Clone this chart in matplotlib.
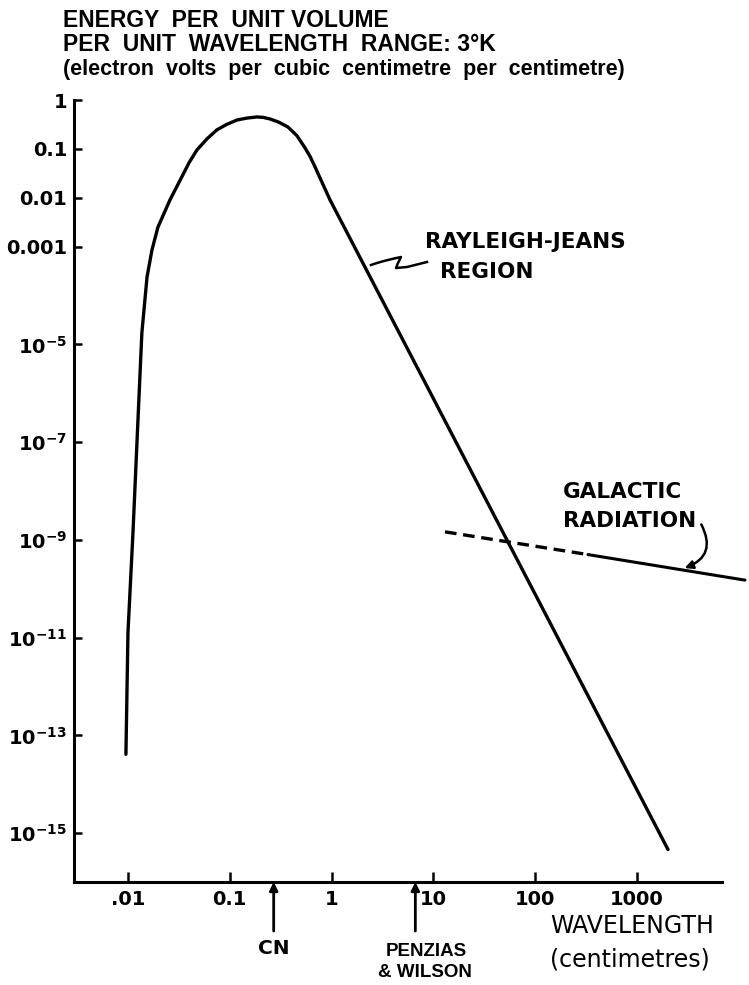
import matplotlib.pyplot as plt
from matplotlib import transforms
from matplotlib.lines import Line2D

# black-body curve at 3 K (cm, eV per cm^3 per cm)
planck_wl = [0.00955, 0.0100, 0.0112, 0.0128, 0.0137, 0.0154, 0.0172, 0.0197,
             0.0259, 0.0339, 0.0398, 0.0476, 0.060, 0.0748, 0.093, 0.118,
             0.148, 0.185, 0.214, 0.248, 0.30, 0.373, 0.457, 0.548, 0.617,
             0.687, 0.964, 2018]
planck_u = [4.1e-14, 1.26e-11, 1.41e-9, 7.4e-7, 1.74e-5, 2.4e-4, 8.5e-4, 2.5e-3,
            9.1e-3, 0.027, 0.052, 0.095, 0.162, 0.245, 0.316, 0.39,
            0.427, 0.45, 0.44, 0.41, 0.355, 0.28, 0.186, 0.105, 0.069,
            0.043, 9.1e-3, 4.6e-16]

# galactic radiation (dashed part is extrapolated)
gal_dash_wl = [13.0, 330.0]
gal_dash_u = [1.46e-9, 5.0e-10]
gal_wl = [330.0, 11500.0]
gal_u = [5.0e-10, 1.5e-10]

x_ticks = [0.01, 0.1, 1, 10, 100, 1000]
x_labels = ['.01', '0.1', '1', '10', '100', '1000']
y_ticks = [1, 0.1, 0.01, 0.001, 1e-5, 1e-7, 1e-9, 1e-11, 1e-13, 1e-15]
y_labels = ['1', '0.1', '0.01', '0.001', r'$10^{-5}$', r'$10^{-7}$',
            r'$10^{-9}$', r'$10^{-11}$', r'$10^{-13}$', r'$10^{-15}$']

cn_wl = 0.27
pw_wl = 6.65

plt.rcParams['mathtext.fontset'] = 'dejavusans'
plt.rcParams['mathtext.default'] = 'bf'

W, H = 749, 985


def fpx(x, y):
    # figure pixel -> figure fraction
    return x / W, 1 - y / H


fig = plt.figure(figsize=(W / 100, H / 100), dpi=100)
ax = fig.add_axes([74 / W, 1 - 882 / H, (722 - 74) / W, (882 - 100) / H])
ax.set_xscale('log')
ax.set_yscale('log')
ax.set_xlim(10 ** -2.53, 10 ** 3.835)
ax.set_ylim(1e-16, 1)

ax.plot(planck_wl, planck_u, color='black', lw=2.4, solid_capstyle='round',
        solid_joinstyle='round')
ax.plot(gal_dash_wl, gal_dash_u, color='black', lw=2.4, ls=(0, (3.5, 2)),
        clip_on=False)
ax.plot(gal_wl, gal_u, color='black', lw=2.2, clip_on=False,
        solid_capstyle='round')

for s in ['top', 'right']:
    ax.spines[s].set_visible(False)
for s in ['left', 'bottom']:
    ax.spines[s].set_linewidth(2.2)

ax.set_xticks(x_ticks)
ax.set_xticklabels(x_labels)
ax.set_yticks(y_ticks)
ax.set_yticklabels(y_labels)
ax.minorticks_off()
ax.tick_params(axis='both', direction='in', width=1.8, labelsize=14)
ax.tick_params(axis='x', length=7, pad=6)
ax.tick_params(axis='y', length=6, pad=5)
for lab in ax.get_xticklabels() + ax.get_yticklabels():
    lab.set_fontweight('bold')

# title block
title_lines = ['ENERGY  PER  UNIT VOLUME',
               'PER  UNIT  WAVELENGTH  RANGE: 3\u00b0K',
               '(electron  volts  per  cubic  centimetre  per  centimetre)']
title_sizes = [16.5, 16.5, 15.5]
for i, t in enumerate(title_lines):
    fig.text(*fpx(63, 27 + 24 * i), t, family='Liberation Sans',
             weight='bold', fontsize=title_sizes[i], va='baseline', ha='left')

# annotations on the curves
ann = dict(family='DejaVu Sans', weight='bold', fontsize=15.5, va='baseline')
fig.text(*fpx(425, 248), 'RAYLEIGH-JEANS', **ann)
fig.text(*fpx(440, 278), 'REGION', **ann)
fig.text(*fpx(563, 498), 'GALACTIC', **ann)
fig.text(*fpx(563, 527), 'RADIATION', **ann)

squiggle_px = [(371, 265), (377, 263), (384, 261), (392, 259), (401, 257),
               (398, 263), (396, 268), (407, 267), (427, 262)]
fig.add_artist(Line2D([fpx(*p)[0] for p in squiggle_px],
                      [fpx(*p)[1] for p in squiggle_px],
                      color='black', lw=1.8, transform=fig.transFigure))

ax.annotate('', xy=fpx(682, 569), xycoords='figure fraction',
            xytext=fpx(700, 522), textcoords='figure fraction',
            arrowprops=dict(arrowstyle='-|>', color='black', lw=1.8,
                            mutation_scale=12,
                            connectionstyle='arc3,rad=-0.6'),
            annotation_clip=False)

# measurement arrows below the axis
trans = transforms.blended_transform_factory(ax.transData, fig.transFigure)
for wl in [cn_wl, pw_wl]:
    ax.annotate('', xy=(wl, 0), xycoords=('data', 'axes fraction'),
                xytext=(wl, fpx(0, 931)[1]),
                textcoords=('data', 'figure fraction'),
                arrowprops=dict(arrowstyle='-|>', color='black', lw=2,
                                mutation_scale=12, shrinkA=0, shrinkB=0),
                annotation_clip=False)

ax.text(cn_wl, fpx(0, 954)[1], 'CN', transform=trans, ha='center',
        va='baseline', family='DejaVu Sans', weight='bold', fontsize=14.5)
narrow = dict(transform=trans, ha='center', va='baseline',
              family='Liberation Sans', weight='bold', fontsize=13.5)
ax.text(10 ** 0.93, fpx(0, 956)[1], 'PENZIAS', **narrow)
ax.text(10 ** 0.92, fpx(0, 977)[1], '& WILSON', **narrow)

fig.text(*fpx(550, 933), 'WAVELENGTH', family='DejaVu Sans', fontsize=17,
         va='baseline')
fig.text(*fpx(550, 966), '(centimetres)', family='DejaVu Sans', fontsize=17,
         va='baseline')

fig.savefig('out.png', dpi=100)
